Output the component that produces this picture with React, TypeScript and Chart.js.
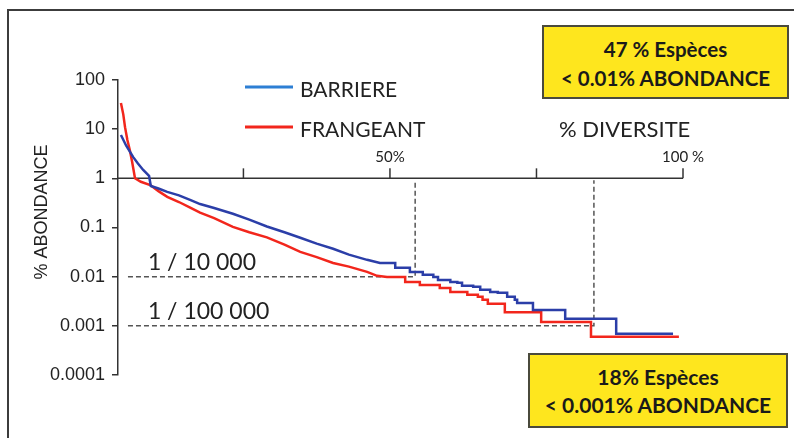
import React, { useEffect, useRef } from "react";
import { Chart, registerables } from "chart.js";

Chart.register(...registerables);

// ---- data ----
const yTicks = [0.0001, 0.001, 0.01, 0.1, 1, 10, 100];
const yTickLabels = ["0.0001", "0.001", "0.01", "0.1", "1", "10", "100"];
const xTicks = [25, 50, 75, 100];
const xTickLabels = ["", "50%", "", "100 %"];
const seriesNames = ["BARRIERE", "FRANGEANT"];

// % diversité (rank) vs % abondance, staircase corners in the tail
const barriereX = [4.1, 5.0, 6.2, 7.0, 7.9, 8.9, 9.2, 10.5, 12.0, 14.0, 16.0, 17.6, 20.0, 23.2, 26.0, 29.0, 32.0, 34.7, 37.5, 40.3, 43.0, 46.1, 48.3,
  50.9, 50.9, 53.4, 53.4, 55.6, 55.6, 57.4, 57.4, 58.2, 58.2, 60.3, 60.3, 61.5, 61.5, 62.3, 62.3, 64.2, 64.2, 65.4, 65.4, 67.1, 67.1, 68.4, 68.4,
  70.0, 70.0, 71.3, 71.3, 71.7, 71.7, 74.4, 74.4, 79.9, 79.9, 88.6, 88.6, 98.3];
const barriereY = [7.6, 4.6, 2.7, 2.0, 1.48, 1.12, 0.7, 0.62, 0.53, 0.45, 0.36, 0.3, 0.25, 0.19, 0.145, 0.105, 0.08, 0.062, 0.047, 0.037, 0.028, 0.022, 0.019,
  0.019, 0.0151, 0.0151, 0.0125, 0.0125, 0.0109, 0.0109, 0.0099, 0.0099, 0.0086, 0.0086, 0.0078, 0.0078, 0.0075, 0.0075, 0.0065, 0.0065, 0.0062, 0.0062, 0.0054, 0.0054, 0.0049, 0.0049, 0.0047,
  0.0047, 0.0039, 0.0039, 0.0034, 0.0034, 0.0029, 0.0029, 0.0021, 0.0021, 0.0014, 0.0014, 0.00069, 0.00069];

const frangeantX = [4.1, 4.5, 4.8, 5.2, 5.6, 6.0, 6.5, 7.5, 9.1, 10.5, 12.0, 14.0, 16.0, 17.6, 20.0, 23.2, 26.0, 29.0, 32.0, 34.7, 37.5, 40.3, 43.0, 46.1, 47.8, 49.5,
  52.6, 52.6, 55.1, 55.1, 58.5, 58.5, 60.3, 60.3, 63.2, 63.2, 65.0, 65.0, 65.8, 65.8, 66.7, 66.7, 69.6, 69.6, 75.8, 75.8, 84.3, 84.3, 99.3];
const frangeantY = [34, 20, 11, 6, 3.8, 2.2, 1.0, 0.85, 0.73, 0.55, 0.42, 0.33, 0.25, 0.2, 0.155, 0.103, 0.08, 0.063, 0.045, 0.032, 0.025, 0.019, 0.016, 0.0125, 0.0104, 0.0099,
  0.0099, 0.0078, 0.0078, 0.0068, 0.0068, 0.0059, 0.0059, 0.0049, 0.0049, 0.0043, 0.0043, 0.0039, 0.0039, 0.0034, 0.0034, 0.0028, 0.0028, 0.0019, 0.0019, 0.0012, 0.0012, 0.0006, 0.0006];

const thresholds = [0.01, 0.001];
const thresholdLabels = ["1 / 10 000", "1 / 100 000"];
const thresholdX = [54.3, 84.8];
const dashStartX = 5.3;
const labelStartX = 8.7;

const boxTop = ["47 % Espèces", "< 0.01% ABONDANCE"];
const boxBottom = ["18% Espèces", "< 0.001% ABONDANCE"];

const BLUE = "#2b3ea8";
const RED = "#f2261c";
const LEGEND_BLUE = "#2d7fd4";
const AXIS = "#333";
const TEXT = "#222";

const overlayPlugin = {
  id: "overlay",
  beforeDatasetsDraw(chart: any) {
    const { ctx, chartArea } = chart;
    const x = chart.scales.x;
    const y = chart.scales.y;
    const y1 = y.getPixelForValue(1);
    ctx.save();
    ctx.setLineDash([5, 3]);
    ctx.strokeStyle = "#555";
    ctx.lineWidth = 1.5;
    thresholds.forEach((t, i) => {
      const py = y.getPixelForValue(t);
      const px = x.getPixelForValue(thresholdX[i]);
      ctx.beginPath();
      ctx.moveTo(x.getPixelForValue(dashStartX), py);
      ctx.lineTo(px, py);
      ctx.lineTo(px, y1 + 2);
      ctx.stroke();
    });
    ctx.setLineDash([]);
    ctx.strokeStyle = AXIS;
    ctx.lineWidth = 1.5;
    ctx.beginPath();
    ctx.moveTo(chartArea.left, y1);
    ctx.lineTo(x.getPixelForValue(100), y1);
    ctx.stroke();
    ctx.font = "15px Lato";
    ctx.fillStyle = TEXT;
    ctx.textAlign = "center";
    ctx.textBaseline = "alphabetic";
    xTicks.forEach((t, i) => {
      const px = x.getPixelForValue(t);
      ctx.beginPath();
      ctx.moveTo(px, y1);
      ctx.lineTo(px, y1 - 10);
      ctx.stroke();
      if (xTickLabels[i]) ctx.fillText(xTickLabels[i], px, y1 - 16);
    });
    ctx.restore();
  },
  afterDraw(chart: any) {
    const { ctx } = chart;
    const x = chart.scales.x;
    const y = chart.scales.y;
    ctx.save();
    ctx.font = "23px Lato";
    ctx.fillStyle = TEXT;
    ctx.textAlign = "left";
    ctx.textBaseline = "alphabetic";
    thresholds.forEach((t, i) => {
      ctx.fillText(thresholdLabels[i], x.getPixelForValue(labelStartX), y.getPixelForValue(t) - 6.5);
    });
    ctx.font = "22px Lato";
    ctx.fillText("% DIVERSITE", 559, 137);
    ctx.font = "21px Lato";
    const legendColors = [LEGEND_BLUE, RED];
    const legendY = [87, 127];
    const legendBase = [97, 137];
    seriesNames.forEach((n, i) => {
      ctx.strokeStyle = legendColors[i];
      ctx.lineWidth = 3;
      ctx.beginPath();
      ctx.moveTo(245, legendY[i]);
      ctx.lineTo(293, legendY[i]);
      ctx.stroke();
      ctx.fillText(n, 300, legendBase[i]);
    });
    ctx.translate(47, 212);
    ctx.rotate(-Math.PI / 2);
    ctx.font = "18px 'Liberation Sans', Arial, sans-serif";
    ctx.textAlign = "center";
    ctx.fillText("% ABONDANCE", 0, 0);
    ctx.restore();
  },
};

const boxStyle: React.CSSProperties = {
  position: "absolute",
  boxSizing: "border-box",
  background: "#fee61e",
  border: "2px solid #4a4a3c",
  fontFamily: "Lato, sans-serif",
  fontWeight: 700,
  color: "#1a1a1a",
  textAlign: "center",
  whiteSpace: "nowrap",
};

export default function App() {
  const ref = useRef<HTMLCanvasElement>(null);
  useEffect(() => {
    const chart = new Chart(ref.current as HTMLCanvasElement, {
      type: "line",
      data: {
        datasets: [
          {
            label: seriesNames[0],
            data: barriereX.map((v, i) => ({ x: v, y: barriereY[i] })),
            borderColor: BLUE,
            borderWidth: 2.5,
            pointRadius: 0,
            tension: 0,
            fill: false,
          },
          {
            label: seriesNames[1],
            data: frangeantX.map((v, i) => ({ x: v, y: frangeantY[i] })),
            borderColor: RED,
            borderWidth: 2.5,
            pointRadius: 0,
            tension: 0,
            fill: false,
          },
        ],
      },
      options: {
        animation: false,
        responsive: false,
        devicePixelRatio: 1,
        layout: { padding: { left: 0, top: 80, right: 111, bottom: 63 } },
        plugins: { legend: { display: false }, tooltip: { enabled: false } },
        scales: {
          x: { type: "linear", min: 3.6, max: 100, display: false },
          y: {
            type: "logarithmic",
            min: 0.0001,
            max: 100,
            afterBuildTicks: (s: any) => {
              s.ticks = yTicks.map((v) => ({ value: v }));
            },
            afterFit: (s: any) => {
              s.width = 118;
            },
            ticks: {
              autoSkip: false,
              padding: 7,
              color: TEXT,
              font: { family: "'Liberation Sans', Arial, sans-serif", size: 18 },
              callback: (v: any) => {
                const idx = yTicks.findIndex((t) => Math.abs(Math.log10(t) - Math.log10(Number(v))) < 1e-6);
                return idx >= 0 ? yTickLabels[idx] : "";
              },
            },
            grid: { display: true, drawOnChartArea: false, drawTicks: true, tickLength: 6, color: AXIS, lineWidth: 1.5 },
            border: { display: true, color: AXIS, width: 1.5 },
          },
        },
      } as any,
      plugins: [overlayPlugin],
    });
    return () => chart.destroy();
  }, []);

  return (
    <div style={{ position: "fixed", left: 0, top: 0, width: 794, height: 438, background: "#fff", overflow: "hidden" }}>
      <canvas ref={ref} width={794} height={438} style={{ position: "absolute", left: 0, top: 0, display: "block" }} />
      <div style={{ position: "absolute", left: 7, top: 9, width: 820, height: 460, borderTop: "2px solid #3c3c3c", borderLeft: "2px solid #3c3c3c", pointerEvents: "none" }} />
      <div style={{ ...boxStyle, left: 542, top: 25, width: 247, height: 74, paddingTop: 8, lineHeight: "29px", fontSize: 20.5 }}>
        <div>{boxTop[0]}</div>
        <div>{boxTop[1]}</div>
      </div>
      <div style={{ ...boxStyle, left: 528, top: 353, width: 260, height: 75, paddingTop: 8, lineHeight: "28px", fontSize: 21 }}>
        <div>{boxBottom[0]}</div>
        <div>{boxBottom[1]}</div>
      </div>
    </div>
  );
}
